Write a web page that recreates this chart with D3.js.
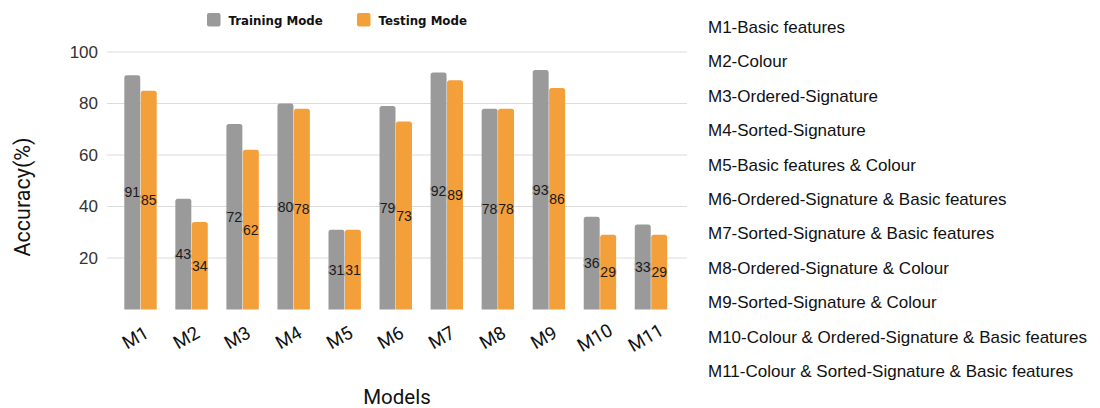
<!DOCTYPE html>
<html>
<head>
<meta charset="utf-8">
<script src="https://cdn.jsdelivr.net/npm/d3@7"></script>
<style>
  html, body { margin: 0; padding: 0; background: #fff; }
  svg { display: block; }
</style>
</head>
<body>
<svg id="chart" width="1100" height="408"></svg>
<script>
// Model identifiers along the x axis
const models = ["M1", "M2", "M3", "M4", "M5", "M6", "M7", "M8", "M9", "M10", "M11"];
// Accuracy (%) per model
const training = [91, 43, 72, 80, 31, 79, 92, 78, 93, 36, 33];
const testing  = [85, 34, 62, 78, 31, 73, 89, 78, 86, 29, 29];
const seriesNames = ["Training Mode", "Testing Mode"];
const seriesColors = ["#9a9a9a", "#f39f3a"];
const yTicks = [20, 40, 60, 80, 100];
// Key describing each model's feature set
const modelDescriptions = [
  "M1-Basic features",
  "M2-Colour",
  "M3-Ordered-Signature",
  "M4-Sorted-Signature",
  "M5-Basic features & Colour",
  "M6-Ordered-Signature & Basic features",
  "M7-Sorted-Signature & Basic features",
  "M8-Ordered-Signature & Colour",
  "M9-Sorted-Signature & Colour",
  "M10-Colour & Ordered-Signature & Basic features",
  "M11-Colour & Sorted-Signature & Basic features"
];

const svg = d3.select("#chart");

const plot = { left: 107, right: 687, top: 52, bottom: 309.5 };

const x = d3.scaleBand()
  .domain(models)
  .range([plot.left, 684.5])
  .paddingInner(0.365)
  .paddingOuter(0.339);

const xSub = d3.scaleBand()
  .domain(seriesNames)
  .range([0, x.bandwidth()])
  .paddingInner(0.03);

const y = d3.scaleLinear().domain([0, 100]).range([plot.bottom, plot.top]);

// Horizontal gridlines
svg.append("g")
  .selectAll("line")
  .data(yTicks)
  .join("line")
  .attr("x1", plot.left)
  .attr("x2", plot.right)
  .attr("y1", d => y(d))
  .attr("y2", d => y(d))
  .attr("stroke", "#dcdcdc")
  .attr("stroke-width", 1);

// Y axis tick labels
const yAxis = d3.axisLeft(y).tickValues(yTicks).tickSize(0).tickPadding(0);
const yG = svg.append("g")
  .attr("transform", `translate(${plot.left - 9},0)`)
  .call(yAxis);
yG.select(".domain").remove();
yG.selectAll("text")
  .attr("font-family", "'Liberation Sans', Arial, sans-serif")
  .attr("font-size", 17)
  .attr("fill", "#333");

// Bar path with slightly rounded top corners
function barPath(x0, w, yTop, yBase, r) {
  const rr = Math.min(r, w / 2, (yBase - yTop) / 2);
  return `M${x0},${yBase}V${yTop + rr}Q${x0},${yTop} ${x0 + rr},${yTop}` +
         `H${x0 + w - rr}Q${x0 + w},${yTop} ${x0 + w},${yTop + rr}V${yBase}Z`;
}

const rows = models.map((m, i) => ({
  model: m,
  values: [
    { series: seriesNames[0], value: training[i], color: seriesColors[0] },
    { series: seriesNames[1], value: testing[i], color: seriesColors[1] }
  ]
}));

const groups = svg.append("g")
  .selectAll("g")
  .data(rows)
  .join("g")
  .attr("transform", d => `translate(${x(d.model)},0)`);

groups.selectAll("path")
  .data(d => d.values)
  .join("path")
  .attr("d", d => barPath(xSub(d.series), xSub.bandwidth(), y(d.value), y(0), 2.5))
  .attr("fill", d => d.color);

// Value labels at mid-height of each bar
groups.selectAll("text")
  .data(d => d.values)
  .join("text")
  .attr("x", d => xSub(d.series) + xSub.bandwidth() / 2)
  .attr("y", d => (y(d.value) + y(0)) / 2)
  .attr("text-anchor", "middle")
  .attr("dominant-baseline", "central")
  .attr("font-family", "'Liberation Sans', Arial, sans-serif")
  .attr("font-size", 14)
  .attr("fill", "#1a1a1a")
  .attr("stroke", d => d.color)
  .attr("stroke-width", 2)
  .attr("paint-order", "stroke")
  .text(d => d.value);

// X axis category labels, tilted
svg.append("g")
  .selectAll("text")
  .data(models)
  .join("text")
  .attr("transform", d => `translate(${x(d) + x.bandwidth() / 2 - 5},${338}) rotate(-30)`)
  .attr("text-anchor", "middle")
  .attr("dominant-baseline", "central")
  .attr("font-family", "Roboto, sans-serif")
  .attr("font-size", 18.5)
  .attr("fill", "#111")
  .text(d => d);

// Axis titles
svg.append("text")
  .attr("x", 397)
  .attr("y", 404)
  .attr("text-anchor", "middle")
  .attr("font-family", "Roboto, sans-serif")
  .attr("font-size", 20.5)
  .attr("fill", "#111")
  .text("Models");

svg.append("text")
  .attr("transform", "translate(30,197) rotate(-90)")
  .attr("text-anchor", "middle")
  .attr("font-family", "Roboto, sans-serif")
  .attr("font-size", 21.5)
  .attr("fill", "#111")
  .text("Accuracy(%)");

// Legend
const legendX = [207, 357];
const legend = svg.append("g")
  .selectAll("g")
  .data(seriesNames)
  .join("g")
  .attr("transform", (d, i) => `translate(${legendX[i]},13)`);
legend.append("rect")
  .attr("width", 13.5)
  .attr("height", 13.5)
  .attr("rx", 2)
  .attr("fill", (d, i) => seriesColors[i]);
legend.append("text")
  .attr("x", 21.5)
  .attr("y", 11.5)
  .attr("font-family", "'DejaVu Sans', Verdana, sans-serif")
  .attr("font-weight", "bold")
  .attr("font-size", 11.8)
  .attr("fill", "#111")
  .text(d => d);

// Model description key on the right
const keyY = d3.scalePoint().domain(modelDescriptions).range([33, 377]);
svg.append("g")
  .selectAll("text")
  .data(modelDescriptions)
  .join("text")
  .attr("x", 708)
  .attr("y", d => keyY(d))
  .attr("font-family", "'Liberation Sans', Arial, sans-serif")
  .attr("font-size", 17)
  .attr("fill", "#111")
  .text(d => d);
</script>
</body>
</html>
